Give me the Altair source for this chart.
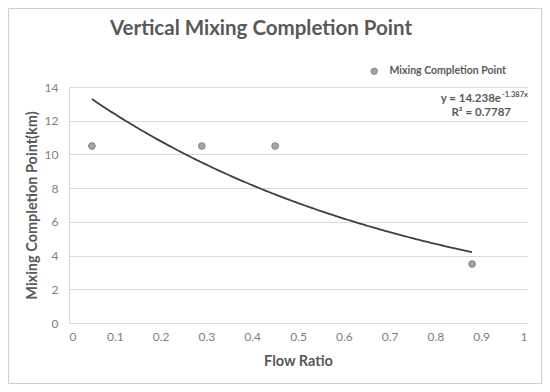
import altair as alt
import pandas as pd

# ---- data ----
chart_title = "Vertical Mixing Completion Point"
flow_ratio = [0.05, 0.29, 0.45, 0.88]
completion_km = [10.5, 10.5, 10.5, 3.5]
series_name = "Mixing Completion Point"
fit_a = 14.238
fit_b = -1.387
fit_r2 = 0.7787
fit_start = 0.05
fit_stop = 0.88
x_ticks = [0, 0.1, 0.2, 0.3, 0.4, 0.5, 0.6, 0.7, 0.8, 0.9, 1]
y_ticks = [0, 2, 4, 6, 8, 10, 12, 14]

FONT = "Lato"
GRAY = "#595959"
LIGHT = "#d9d9d9"

df = pd.DataFrame({"x": flow_ratio, "y": completion_km,
                   "series": [series_name] * len(flow_ratio)})

xs = alt.Scale(domain=[0, 1], nice=False)
ys = alt.Scale(domain=[0, 14], nice=False)

x_axis = alt.Axis(values=x_ticks, format="~g", title="Flow Ratio", grid=False)
y_axis = alt.Axis(values=y_ticks, format="~g", title="Mixing Completion Point(km)")

X = alt.X("x:Q", scale=xs, axis=x_axis)
Y = alt.Y("y:Q", scale=ys, axis=y_axis)

points = alt.Chart(df).mark_point(
    filled=True, size=45, stroke="#858585", strokeWidth=1, opacity=1
).encode(
    x=X, y=Y,
    color=alt.Color("series:N", scale=alt.Scale(range=["#a5a5a5"]),
                    legend=alt.Legend(orient="none", legendX=300, legendY=-21,
                                      title=None, symbolType="circle",
                                      symbolSize=40, symbolStrokeColor="#858585",
                                      symbolStrokeWidth=1,
                                      labelFont=FONT, labelFontSize=10.5,
                                      labelFontWeight="bold", labelColor=GRAY,
                                      labelOffset=10)),
)

curve = alt.Chart(
    alt.sequence(fit_start, fit_stop + 0.0001, 0.005, as_="x")
).transform_calculate(
    y=f"{fit_a} * exp({fit_b} * datum.x)"
).mark_line(color="#404040", strokeWidth=1.8).encode(x=X, y=Y)

title_mark = alt.Chart(pd.DataFrame({"t": [chart_title]})).mark_text(
    align="center", baseline="alphabetic", font=FONT, fontSize=20.5,
    fontWeight="bold", color=GRAY
).encode(text="t:N", x=alt.value(192), y=alt.value(-52))

eq_main = alt.Chart(pd.DataFrame({"t": [f"y = {fit_a}e"]})).mark_text(
    align="right", baseline="alphabetic", font=FONT, fontSize=11.5,
    fontWeight="bold", color=GRAY
).encode(text="t:N", x=alt.value(432), y=alt.value(15))

eq_sup = alt.Chart(pd.DataFrame({"t": [f"{fit_b}x"]})).mark_text(
    align="left", baseline="alphabetic", font=FONT, fontSize=7.5,
    fontWeight="bold", color=GRAY
).encode(text="t:N", x=alt.value(433), y=alt.value(10))

eq_r2 = alt.Chart(pd.DataFrame({"t": [f"R\u00b2 = {fit_r2}"]})).mark_text(
    align="right", baseline="alphabetic", font=FONT, fontSize=11.5,
    fontWeight="bold", color=GRAY
).encode(text="t:N", x=alt.value(442), y=alt.value(29))

border = alt.Chart(pd.DataFrame({"d": [0]})).mark_rect(
    fill=None, stroke="#cfcfcf", strokeWidth=1
).encode(x=alt.value(-60.5), x2=alt.value(472.5),
         y=alt.value(-78.5), y2=alt.value(296.5))

chart = alt.layer(border, curve, points, title_mark, eq_main, eq_sup, eq_r2).properties(
    width=458, height=236,
    autosize=alt.AutoSizeParams(type="none"),
    padding={"left": 61, "top": 79, "right": 15, "bottom": 61},
).configure_view(stroke=None).configure_axis(
    gridColor=LIGHT, domainColor=LIGHT, ticks=False,
    labelFont=FONT, labelFontSize=12, labelColor="#7f7f7f",
    titleFont=FONT, titleFontSize=14.5, titleFontWeight="bold", titleColor=GRAY,
).configure_axisX(labelPadding=8, titlePadding=12).configure_axisY(
    labelPadding=11, titlePadding=5
)

chart.save("out.html", embed_options={"renderer": "svg", "actions": False})
